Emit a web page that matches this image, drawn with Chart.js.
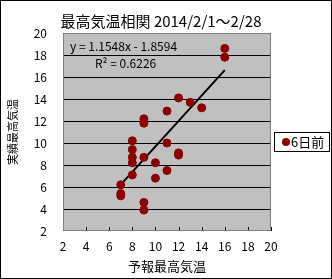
<!DOCTYPE html>
<html>
<head>
<meta charset="utf-8">
<script src="https://cdn.jsdelivr.net/npm/chart.js@4"></script>
<style>
  html, body { margin: 0; padding: 0; background: #fff; }
  #wrap { width: 332px; height: 279px; border: 1px solid #000; box-sizing: border-box; }
  #chart { display: block; }
</style>
</head>
<body>
<div id="wrap"><canvas id="chart" width="330" height="277"></canvas></div>
<script>
const FONT = '"Noto Sans CJK JP", "Liberation Sans", sans-serif';

const chartTitle = '最高気温相関 2014/2/1～2/28';
const xTitle = '予報最高気温';
const yTitle = '実績最高気温';
const seriesLabel = '6日前';

// 予報 (x) と 実績 (y)
const forecast = [16, 16, 12, 13, 14, 11, 9, 9, 8, 11, 8, 8, 9, 8, 12, 12, 10, 11, 8, 10, 7, 7, 7, 9, 9];
const actual = [18.6, 17.8, 14.1, 13.7, 13.2, 12.9, 12.2, 11.8, 10.2, 10.0, 9.4, 8.7, 8.7, 8.2, 9.1, 8.9, 8.2, 7.5, 7.1, 6.8, 6.2, 5.4, 5.2, 4.6, 3.9];

// 近似直線の端点
const trendX = [7, 16];
const trendY = [6.22, 16.62];
const trendText = ['y = 1.1548x - 1.8594', 'R² = 0.6226'];

const axisMin = 2;
const axisMax = 20;
const axisStep = 2;

const points = forecast.map((x, k) => ({ x, y: actual[k] }));
const trend = trendX.map((x, k) => ({ x, y: trendY[k] }));

const decor = {
  id: 'decor',
  beforeDraw(chart) {
    const { ctx, chartArea: a } = chart;
    ctx.save();
    ctx.fillStyle = '#c0c0c0';
    ctx.fillRect(a.left, a.top, a.right - a.left, a.bottom - a.top);
    ctx.restore();
  },
  beforeDatasetsDraw(chart) {
    const { ctx, chartArea: a, scales } = chart;
    ctx.save();
    // x の目盛り (内向き)
    ctx.strokeStyle = '#000';
    ctx.lineWidth = 1;
    for (let v = axisMin; v <= axisMax; v += axisStep) {
      const px = Math.round(scales.x.getPixelForValue(v)) + 0.5;
      ctx.beginPath();
      ctx.moveTo(px, a.bottom);
      ctx.lineTo(px, a.bottom - 4);
      ctx.stroke();
    }
    ctx.strokeStyle = '#808080';
    ctx.strokeRect(a.left + 0.5, a.top + 0.5, a.right - a.left - 1, a.bottom - a.top - 1);
    ctx.restore();
  },
  afterDraw(chart) {
    const { ctx } = chart;
    ctx.save();
    ctx.fillStyle = '#000';
    ctx.textBaseline = 'middle';

    ctx.font = '15px ' + FONT;
    ctx.textAlign = 'center';
    ctx.fillText(chartTitle, 160, 20);

    ctx.font = '12px ' + FONT;
    ctx.textAlign = 'left';
    ctx.fillText(trendText[0], 69, 45);
    ctx.fillText(trendText[1], 94, 62);

    // 凡例
    const ds = chart.data.datasets[0];
    ctx.fillStyle = '#fff';
    ctx.fillRect(273, 131, 55, 19);
    ctx.strokeStyle = '#000';
    ctx.strokeRect(273.5, 131.5, 55, 19);
    ctx.fillStyle = ds.backgroundColor;
    ctx.beginPath();
    ctx.arc(285, 141, 4, 0, Math.PI * 2);
    ctx.fill();
    ctx.fillStyle = '#000';
    ctx.font = '13px ' + FONT;
    ctx.fillText(ds.label, 290, 141);
    ctx.restore();
  }
};

new Chart(document.getElementById('chart'), {
  type: 'scatter',
  data: {
    datasets: [
      {
        label: seriesLabel,
        data: points,
        backgroundColor: '#8b0000',
        borderColor: '#8b0000',
        pointRadius: 4,
        pointHoverRadius: 4,
      },
      {
        type: 'line',
        label: 'trend',
        data: trend,
        borderColor: '#000',
        borderWidth: 2,
        pointRadius: 0,
        fill: false,
      },
    ],
  },
  options: {
    responsive: false,
    animation: false,
    layout: { padding: { top: 32, right: 60, left: 0, bottom: 0 } },
    plugins: {
      legend: { display: false },
      title: { display: false },
      tooltip: { enabled: false },
    },
    scales: {
      x: {
        type: 'linear',
        min: axisMin,
        max: axisMax,
        afterFit: s => { s.height = 47; },
        ticks: {
          stepSize: axisStep,
          padding: 8,
          color: '#000',
          font: { family: FONT, size: 12 },
        },
        grid: { display: false, drawTicks: false },
        border: { display: false },
        title: {
          display: true,
          text: xTitle,
          color: '#000',
          font: { family: FONT, size: 13 },
          padding: { top: 4, bottom: 4 },
        },
      },
      y: {
        type: 'linear',
        min: axisMin,
        max: axisMax,
        afterFit: s => { s.width = 62; },
        ticks: {
          stepSize: axisStep,
          padding: 16,
          color: '#000',
          font: { family: FONT, size: 12 },
        },
        grid: {
          color: ctx => (ctx.tick && (ctx.tick.value === axisMin || ctx.tick.value === axisMax)) ? 'rgba(0,0,0,0)' : '#000',
          drawTicks: false,
          lineWidth: 1,
        },
        border: { display: false },
        title: {
          display: true,
          text: yTitle,
          color: '#000',
          font: { family: FONT, size: 11 },
          padding: { top: 5, bottom: 5 },
        },
      },
    },
  },
  plugins: [decor],
});
</script>
</body>
</html>
